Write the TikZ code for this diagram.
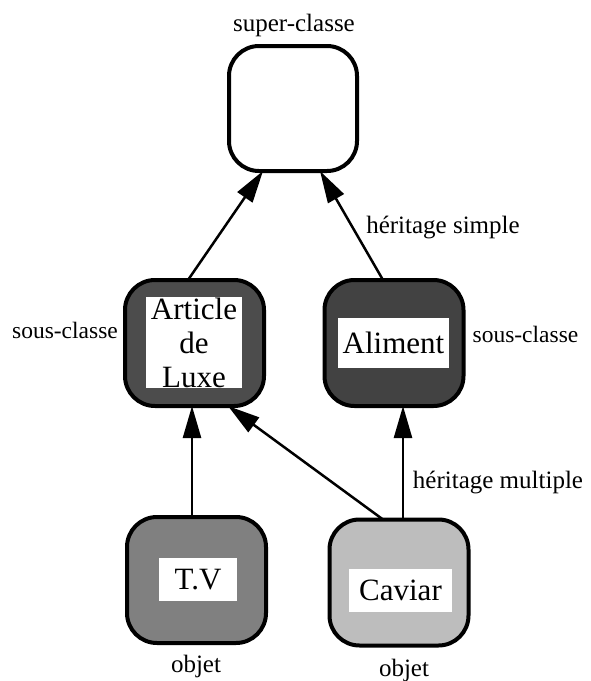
\documentclass[tikz,border=0pt]{standalone}
\usepackage{fontspec}
\setmainfont{Liberation Serif}
\usetikzlibrary{calc,arrows.meta}
\definecolor{luxefill}{gray}{0.30}
\definecolor{foodfill}{gray}{0.26}
\definecolor{tvfill}{gray}{0.50}
\definecolor{caviarfill}{gray}{0.74}
\begin{document}
\begin{tikzpicture}[x=1pt,y=-1pt,
  classbox/.style={draw=black, line width=4pt, rounded corners=30pt,
    minimum width=139pt, minimum height=126pt, inner sep=0pt, outer sep=0pt},
  namebox/.style={fill=white, inner sep=0pt, align=center,
    font=\fontsize{31}{34}\selectfont},
  lbl/.style={anchor=base, inner sep=0pt, font=\fontsize{25}{28}\selectfont},
  inherit/.style={line width=2.5pt, -{Triangle[length=32pt,width=18pt]}}]
\useasboundingbox (0,0) rectangle (590,681);

% class boxes
\node[classbox, minimum width=128pt, minimum height=125pt] (super) at (293,108.5) {};
\node[classbox, fill=luxefill] (luxe) at (194.5,343) {};
\node[classbox, fill=foodfill] (food) at (394,343) {};
\node[classbox, fill=tvfill] (tv) at (196.5,580) {};
\node[classbox, fill=caviarfill] (caviar) at (399,582.5) {};

% names on white plates
\node[namebox, minimum width=96pt, minimum height=91pt] (luxename) at (194,342.5) {Article\\de\\Luxe};
\node[namebox, minimum width=111pt, minimum height=50pt] (foodname) at (393.5,343) {Aliment};
\node[namebox, minimum width=78pt, minimum height=43pt] (tvname) at (198,579.5) {T.V};
\node[namebox, minimum width=103pt, minimum height=43pt] (caviarname) at (400.5,590.5) {Caviar};

% inheritance arrows
\draw[inherit] ($(luxe.north)+(-6.5,0)$) -- ($(super.south)+(-30,0)$);
\draw[inherit] ($(food.north)+(-11,0)$) -- ($(super.south)+(27,0)$);
\draw[inherit] ($(tv.north)+(-4.5,0)$) -- ($(luxe.south)+(-2.5,0)$);
\draw[inherit] ($(caviar.north)+(-16,0)$) -- ($(luxe.south)+(33.5,0)$);
\draw[inherit] ($(caviar.north)+(4,0)$) -- ($(food.south)+(9,0)$);

% labels
\node[lbl] (superlbl) at (294,31) {super-classe};
\node[lbl] (simplelbl) at (443,233) {héritage simple};
\node[lbl, font=\fontsize{23.5}{26}\selectfont] (luxelbl) at (65,338) {sous-classe};
\node[lbl, font=\fontsize{23.5}{26}\selectfont] (foodlbl) at (525.5,342) {sous-classe};
\node[lbl] (multilbl) at (498,488) {héritage multiple};
\node[lbl] (tvlbl) at (196,672) {objet};
\node[lbl] (caviarlbl) at (404,676) {objet};
\end{tikzpicture}
\end{document}
